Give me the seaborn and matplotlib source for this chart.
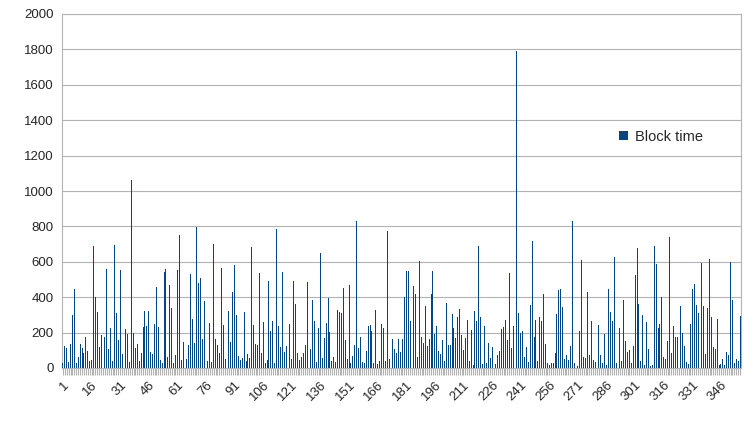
import matplotlib
matplotlib.use('Agg')
import matplotlib.pyplot as plt
import seaborn as sns
from matplotlib.ticker import MultipleLocator

# block times, segment by segment (left to right)
seg1 = [30, 125, 111, 34, 136, 300, 447, 26, 60, 136, 113, 83, 175, 96, 40, 45, 690, 402, 317, 121,
        187, 141, 177, 560, 107, 226, 40, 696, 313, 158]
seg2 = [551, 79, 30, 221, 192, 34, 1064, 198, 113, 136, 40, 85, 234, 323, 238, 323, 91, 81, 249, 455,
        232, 45, 30, 543, 557, 62, 470, 340, 26, 74]
seg3 = [555, 753, 45, 147, 62, 51, 130, 532, 277, 141, 798, 481, 509, 164, 379, 70, 40, 255, 34, 702,
        164, 130, 85, 566, 243, 51, 60, 323, 147, 430, 583]
seg4 = [300, 68, 45, 57, 317, 40, 79, 57, 685, 243, 136, 130, 538, 85, 260, 28, 45, 492, 209, 266,
        28, 787, 238, 120, 543, 91, 125, 311, 249, 53]
seg5 = [492, 362, 85, 45, 62, 85, 130, 487, 226, 107, 385, 266, 34, 226, 651, 57, 170, 255, 396, 204,
        40, 60, 34, 328, 317, 311, 453, 158, 51, 470, 28]
seg6 = [68, 130, 832, 113, 175, 34, 30, 96, 238, 243, 209, 28, 328, 23, 40, 249, 226, 40, 776, 51,
        79, 164, 107, 85, 164, 91, 164, 402, 549, 549]
seg7 = [266, 436, 464, 419, 62, 606, 175, 141, 351, 125, 164, 419, 549, 192, 238, 96, 79, 158, 40, 368,
        130, 130, 306, 226, 170, 289, 334, 187, 102, 170]
seg8 = [272, 40, 215, 17, 323, 266, 690, 289, 20, 238, 28, 141, 57, 119, 119, 20, 74, 96, 221, 232,
        272, 158, 538, 113, 238, 736, 1790, 311, 198, 209]
seg9 = [62, 119, 34, 357, 719, 175, 272, 40, 289, 266, 419, 136, 30, 17, 28, 28, 85, 306, 442, 447,
        345, 51, 74, 45, 125, 832, 28, 345, 10, 209, 611]
seg10 = [62, 57, 430, 74, 266, 45, 35, 164, 243, 74, 28, 192, 15, 447, 317, 266, 628, 30, 40, 226,
         40, 385, 153, 91, 102, 28, 125, 526, 679, 362]
seg11 = [40, 300, 15, 260, 107, 10, 15, 690, 589, 226, 249, 402, 62, 51, 153, 741, 85, 238, 177, 177,
         45, 351, 198, 125, 34, 25, 249, 447, 475, 357, 311, 419]
seg12 = [594, 351, 79, 340, 617, 289, 119, 107, 277, 17, 23, 51, 15, 91, 74, 600, 385, 30, 51, 40, 294]

block_time = seg1 + seg2 + seg3 + seg4 + seg5 + seg6 + seg7 + seg8 + seg9 + seg10 + seg11 + seg12
blocks = list(range(1, len(block_time) + 1))
tick_labels = [str(b) for b in blocks[::15]]

sns.set_style('white')
plt.rcParams['font.family'] = ['Liberation Sans', 'DejaVu Sans']

fig = plt.figure(figsize=(7.56, 4.25), dpi=100)
ax = fig.add_axes([62 / 756, 1 - 368 / 425, (741 - 62) / 756, (368 - 14) / 425])

sns.barplot(x=blocks, y=block_time, color='#004586', saturation=1, width=0.5,
            linewidth=0, edgecolor='none', label='Block time', ax=ax, zorder=3)

n = len(block_time)
ax.set_xlim(-0.5, n - 0.5)
ax.set_ylim(0, 2000)
ax.yaxis.set_major_locator(MultipleLocator(200))
ax.set_axisbelow(True)
ax.grid(axis='y', color='#b3b3b3', linewidth=0.8, zorder=0)
ax.grid(axis='x', visible=False)

ax.set_xticks(range(0, n, 15))
ax.set_xticklabels(tick_labels, rotation=45, ha='right', va='top', rotation_mode='anchor')
ax.set_xticks(range(n), minor=True)
ax.tick_params(axis='x', which='both', bottom=True, direction='out', length=5,
               color='#b3b3b3', width=0.8)
ax.tick_params(axis='x', which='major', labelsize=9.5, pad=3)
ax.tick_params(axis='y', length=0, labelsize=9.5, pad=6)

for s in ax.spines.values():
    s.set_color('#b3b3b3')
    s.set_linewidth(0.8)

ax.legend(loc='center left', bbox_to_anchor=(0.802, 0.678), bbox_transform=fig.transFigure,
          frameon=False, fontsize=10.5, handlelength=0.6, handleheight=0.6, handletextpad=0.5)

ax.set_xlabel('')
ax.set_ylabel('')
fig.savefig('out.png', dpi=100)
